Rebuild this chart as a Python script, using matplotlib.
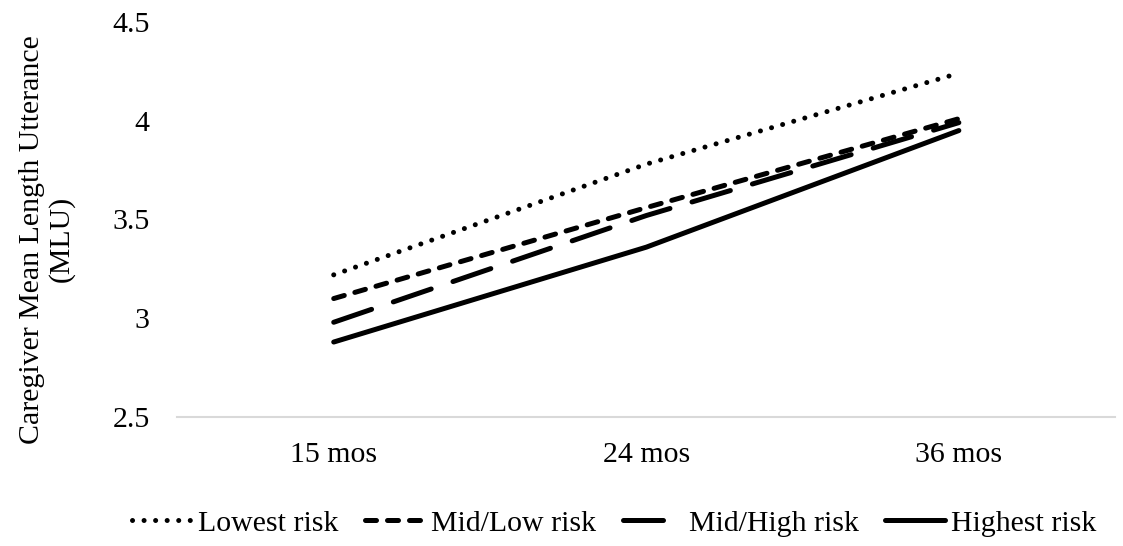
import numpy as np
import matplotlib.pyplot as plt
import matplotlib as mpl

mpl.rcParams.update({'font.size': 21.5, 'font.family': 'serif',
                     'font.serif': ['Liberation Serif', 'DejaVu Serif']})

# data
timepoints = ['15 mos', '24 mos', '36 mos']
lowest = [3.22, 3.78, 4.24]
mid_low = [3.10, 3.56, 4.01]
mid_high = [2.98, 3.52, 3.99]
highest = [2.88, 3.36, 3.95]

x = np.arange(len(timepoints))

fig = plt.figure(figsize=(11.23, 5.46), dpi=100)
ax = fig.add_axes([0.158, 0.236, 0.835, 0.724])

lw = 3.6
ax.plot(x, lowest, color='black', lw=lw, linestyle=(0, (0.01, 2.3)),
        dash_capstyle='round', label='Lowest risk')
ax.plot(x, mid_low, color='black', lw=lw, linestyle=(0, (2.2, 2.2)),
        dash_capstyle='round', label='Mid/Low risk')
ax.plot(x, mid_high, color='black', lw=lw, linestyle=(0, (8.0, 4.6)),
        dash_capstyle='round', label='Mid/High risk')
ax.plot(x, highest, color='black', lw=lw, solid_capstyle='round',
        label='Highest risk')

ax.set_xlim(-0.5, 2.5)
ax.set_ylim(2.5, 4.5)
ax.set_yticks([2.5, 3, 3.5, 4, 4.5])
ax.set_yticklabels(['2.5', '3', '3.5', '4', '4.5'])
ax.set_xticks(x)
ax.set_xticklabels(timepoints)
ax.tick_params(length=0)
ax.tick_params(axis='x', pad=18)
ax.tick_params(axis='y', pad=20)

for s in ['top', 'right', 'left']:
    ax.spines[s].set_visible(False)
ax.spines['bottom'].set_color('#d9d9d9')
ax.spines['bottom'].set_linewidth(1.5)

ax.set_ylabel('Caregiver Mean Length Utterance\n(MLU)', linespacing=1.1)
ax.yaxis.set_label_coords(-0.110, 0.45)

ax.legend(loc='center', bbox_to_anchor=(0.466, -0.268), ncol=4,
          frameon=False, handlelength=2.0, handletextpad=0.2,
          columnspacing=0.9, borderaxespad=0, borderpad=0)

fig.savefig('out.png', dpi=100)
